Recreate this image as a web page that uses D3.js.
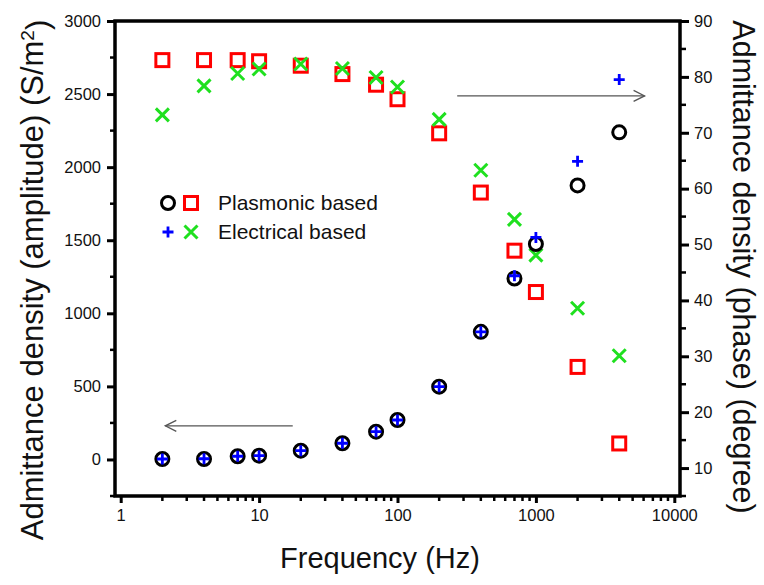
<!DOCTYPE html>
<html>
<head>
<meta charset="utf-8">
<script src="https://cdn.jsdelivr.net/npm/d3@7"></script>
<style>
    body { margin: 0; background: #fff; }
    text { font-family: "Liberation Sans", Arial, sans-serif; fill: #111; }
</style>
</head>
<body>
<div id="chart"></div>
<script>
    // data
    let freq = [2, 4, 7, 10, 20, 40, 70, 100, 200, 400, 700, 1000, 2000, 4000]
    let plasmonicAmp = [3, 3, 22, 26, 60, 111, 190, 270, 498, 873, 1238, 1474, 1875, 2238]
    let electricalAmp = [3, 5, 22, 26, 60, 111, 190, 270, 498, 873, 1257, 1519, 2040, 2599]
    let plasmonicPhase = [83.0, 83.0, 83.0, 82.8, 82.0, 80.5, 78.6, 76.0, 69.9, 59.3, 48.9, 41.5, 28.1, 14.4]
    let electricalPhase = [73.2, 78.4, 80.6, 81.4, 82.3, 81.5, 79.9, 78.2, 72.4, 63.3, 54.5, 48.1, 38.6, 30.1]

    // tick values
    let xTicks = [1, 10, 100, 1000, 10000]
    let ampTicks = [0, 500, 1000, 1500, 2000, 2500, 3000]
    let ampMinor = [-250, 250, 750, 1250, 1750, 2250, 2750]
    let phaseTicks = [10, 20, 30, 40, 50, 60, 70, 80, 90]
    let phaseMinor = [5, 15, 25, 35, 45, 55, 65, 75, 85]

    // arrows pointing to the axis each group belongs to
    let arrows = [
        {from: 17.5, to: 2.1, value: 230, axis: "amp"},
        {from: 270, to: 6100, value: 76.6, axis: "phase"}
    ]

    let width = 764, height = 585
    let plotLeft = 115, plotRight = 680, plotTop = 21, plotBottom = 496

    var svg = d3.select("#chart")
        .append("svg")
        .attr("width", width)
        .attr("height", height)

    // scales
    var x = d3.scaleLog().domain([1, 10000]).range([120.7, 674.3])
    var yAmp = d3.scaleLinear().domain([-250, 3000]).range([plotBottom, plotTop])
    var yPhase = d3.scaleLinear().domain([5, 90]).range([plotBottom, plotTop])

    // minor x ticks, 2..9 in each decade
    let xMinor = []
    for (let dec = 1; dec < 10000; dec *= 10) {
        for (let k = 2; k <= 9; k++) xMinor.push(dec * k)
    }

    // bottom axis
    var gx = svg.append("g").attr("transform", "translate(0," + (plotBottom - 1) + ")")
    gx.call(d3.axisBottom(x).tickValues(xTicks).tickSize(8).tickFormat(d3.format("d")))
    gx.select(".domain").remove()
    gx.selectAll(".tick line").attr("stroke", "#000").attr("stroke-width", 3)
    gx.selectAll(".tick text")
        .attr("y", 14)
        .attr("dy", "0.71em")
        .style("font-size", "16.5px")
        .style("font-family", "Liberation Sans, Arial, sans-serif")
    svg.append("g").selectAll("line")
        .data(xMinor)
        .join("line")
        .attr("x1", d => x(d)).attr("x2", d => x(d))
        .attr("y1", plotBottom).attr("y2", plotBottom + 5)
        .attr("stroke", "#000").attr("stroke-width", 2.5)

    // left axis
    var gl = svg.append("g").attr("transform", "translate(" + (plotLeft + 1) + ",0)")
    gl.call(d3.axisLeft(yAmp).tickValues(ampTicks).tickSize(9).tickPadding(6).tickFormat(d3.format("d")))
    gl.select(".domain").remove()
    gl.selectAll(".tick line").attr("stroke", "#000").attr("stroke-width", 3)
    gl.selectAll(".tick text")
        .style("font-size", "16.5px")
        .style("font-family", "Liberation Sans, Arial, sans-serif")
    svg.append("g").selectAll("line")
        .data(ampMinor)
        .join("line")
        .attr("x1", plotLeft).attr("x2", plotLeft - 5)
        .attr("y1", d => yAmp(d)).attr("y2", d => yAmp(d))
        .attr("stroke", "#000").attr("stroke-width", 2.5)

    // right axis
    var gr = svg.append("g").attr("transform", "translate(" + (plotRight - 1) + ",0)")
    gr.call(d3.axisRight(yPhase).tickValues(phaseTicks).tickSize(10).tickPadding(5))
    gr.select(".domain").remove()
    gr.selectAll(".tick line").attr("stroke", "#000").attr("stroke-width", 3)
    gr.selectAll(".tick text")
        .style("font-size", "16.5px")
        .style("font-family", "Liberation Sans, Arial, sans-serif")
    svg.append("g").selectAll("line")
        .data(phaseMinor)
        .join("line")
        .attr("x1", plotRight).attr("x2", plotRight + 6)
        .attr("y1", d => yPhase(d)).attr("y2", d => yPhase(d))
        .attr("stroke", "#000").attr("stroke-width", 2.5)

    // frame
    svg.append("path")
        .attr("d", "M" + plotLeft + "," + plotTop + "V" + plotBottom + "H" + plotRight + "V" + plotTop + "Z")
        .attr("fill", "none")
        .attr("stroke", "#000")
        .attr("stroke-width", 3.5)

    // arrows
    arrows.forEach(a => {
        let yy = a.axis == "amp" ? yAmp(a.value) : yPhase(a.value)
        let x1 = x(a.from), x2 = x(a.to)
        let dir = x2 > x1 ? 1 : -1
        let g = svg.append("g").attr("stroke", "#555").attr("stroke-width", 1.3).attr("fill", "none")
        g.append("line").attr("x1", x1).attr("x2", x2).attr("y1", yy).attr("y2", yy)
        g.append("path")
            .attr("d", "M" + (x2 - dir * 11) + "," + (yy - 5.5) + "L" + x2 + "," + yy + "L" + (x2 - dir * 11) + "," + (yy + 5.5))
    })

    // marker shapes
    function drawCircles(g, data, yScale) {
        g.selectAll("circle")
            .data(data)
            .join("circle")
            .attr("cx", d => x(d.f))
            .attr("cy", d => yScale(d.v))
            .attr("r", 6.5)
            .attr("fill", "none")
            .attr("stroke", "#000")
            .attr("stroke-width", 3)
    }
    function drawSquares(g, data, yScale) {
        g.selectAll("rect")
            .data(data)
            .join("rect")
            .attr("x", d => x(d.f) - 6.5)
            .attr("y", d => yScale(d.v) - 6.5)
            .attr("width", 13)
            .attr("height", 13)
            .attr("fill", "none")
            .attr("stroke", "#ff0000")
            .attr("stroke-width", 3)
    }
    function drawPlus(g, data, yScale) {
        g.selectAll("path")
            .data(data)
            .join("path")
            .attr("d", d => {
                let cx = x(d.f), cy = yScale(d.v), s = 5.5
                return "M" + (cx - s) + "," + cy + "H" + (cx + s) + "M" + cx + "," + (cy - s) + "V" + (cy + s)
            })
            .attr("stroke", "#0000ff")
            .attr("stroke-width", 2.8)
    }
    function drawCross(g, data, yScale) {
        g.selectAll("path")
            .data(data)
            .join("path")
            .attr("d", d => {
                let cx = x(d.f), cy = yScale(d.v), s = 6.5
                return "M" + (cx - s) + "," + (cy - s) + "L" + (cx + s) + "," + (cy + s) +
                       "M" + (cx - s) + "," + (cy + s) + "L" + (cx + s) + "," + (cy - s)
            })
            .attr("stroke", "#1fe01f")
            .attr("stroke-width", 3)
    }

    let zip = vals => freq.map((f, i) => ({f: f, v: vals[i]}))

    drawSquares(svg.append("g"), zip(plasmonicPhase), yPhase)
    drawCross(svg.append("g"), zip(electricalPhase), yPhase)
    drawCircles(svg.append("g"), zip(plasmonicAmp), yAmp)
    drawPlus(svg.append("g"), zip(electricalAmp), yAmp)

    // legend
    let legend = svg.append("g").attr("transform", "translate(168,203)")
    drawCircles(legend.append("g"), [{f: 1, v: 0}], v => 0)
    legend.select("circle").attr("cx", 0)
    drawSquares(legend.append("g"), [{f: 1, v: 0}], v => 0)
    legend.select("rect").attr("x", 23 - 6.5)
    drawPlus(legend.append("g").attr("transform", "translate(" + (-x(1)) + ",29)"), [{f: 1, v: 0}], v => 0)
    drawCross(legend.append("g").attr("transform", "translate(" + (23 - x(1)) + ",29)"), [{f: 1, v: 0}], v => 0)
    legend.append("text").attr("x", 50).attr("y", 7).style("font-size", "21px").text("Plasmonic based")
    legend.append("text").attr("x", 50).attr("y", 36).style("font-size", "21px").text("Electrical based")

    // axis titles
    svg.append("text")
        .attr("x", 380).attr("y", 568)
        .attr("text-anchor", "middle")
        .style("font-size", "29px")
        .text("Frequency (Hz)")

    var lt = svg.append("text")
        .attr("transform", "translate(43,280) rotate(-90)")
        .attr("text-anchor", "middle")
        .style("font-size", "31px")
    lt.append("tspan").text("Admittance density (amplitude) (S/m")
    lt.append("tspan").attr("dy", "-0.45em").style("font-size", "19px").text("2")
    lt.append("tspan").attr("dy", "0.45em").text(")")

    svg.append("text")
        .attr("transform", "translate(733,267) rotate(90)")
        .attr("text-anchor", "middle")
        .style("font-size", "30.5px")
        .text("Admittance density (phase) (degree)")
</script>
</body>
</html>
